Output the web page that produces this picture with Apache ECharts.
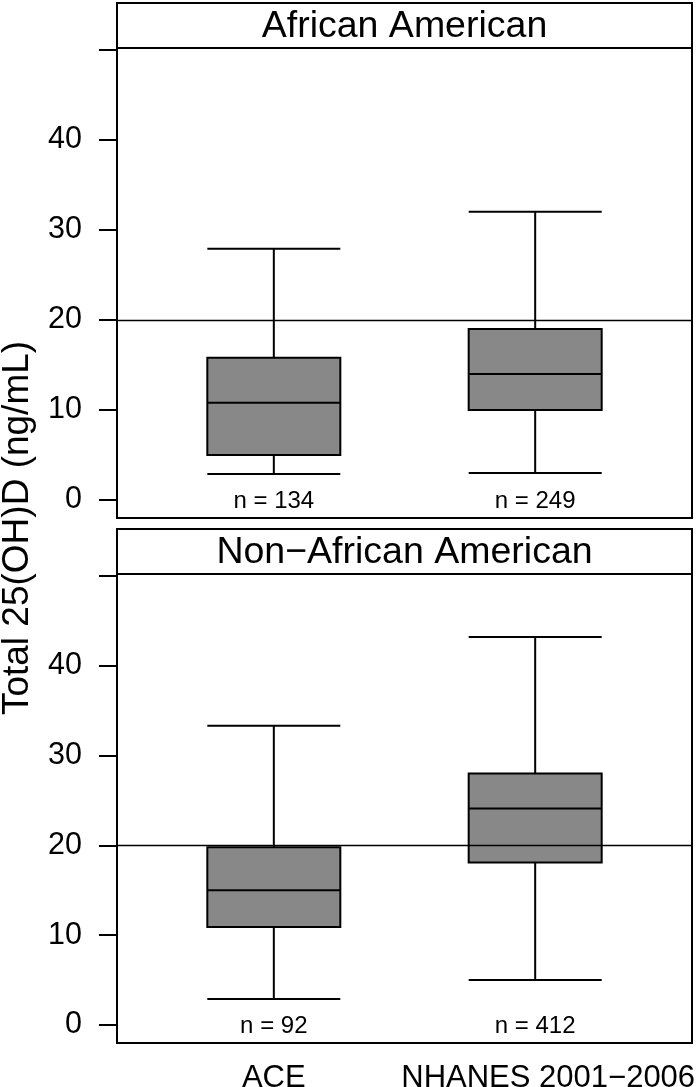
<!DOCTYPE html>
<html>
<head>
<meta charset="utf-8">
<script src="https://cdn.jsdelivr.net/npm/echarts@6/dist/echarts.min.js"></script>
<style>
  html, body { margin: 0; padding: 0; background: #fff; }
  #chart { width: 700px; height: 1087px; }
</style>
</head>
<body>
<div id="chart"></div>
<script>
// groups on the x axis (positions 1 and 2)
const groups = ['ACE', 'NHANES 2001\u22122006'];
const groupPos = [1, 2];
const panelTitles = ['African American', 'Non\u2212African American'];

// box stats: [min, Q1, median, Q3, max]
const africanAmerican = [
  [2.9, 5.0, 10.8, 15.8, 27.9],
  [3.0, 10.0, 14.0, 19.0, 32.0]
];
const nonAfricanAmerican = [
  [2.9, 10.9, 15.0, 19.8, 33.3],
  [5.0, 18.1, 24.1, 28.0, 43.2]
];
const nAfricanAmerican = [134, 249];
const nNonAfricanAmerican = [92, 412];

const yTicks = [0, 10, 20, 30, 40, 50];
const yLabels = [0, 10, 20, 30, 40];
const refLine = 20;

const FONT = 'Liberation Sans';
const chart = echarts.init(document.getElementById('chart'));

// panel layout (pixels)
const frameLeft = 117, frameRight = 692;
const panels = [
  { title: panelTitles[0], boxes: africanAmerican, n: nAfricanAmerican, headTop: 3, top: 48, height: 470 },
  { title: panelTitles[1], boxes: nonAfricanAmerican, n: nNonAfricanAmerican, headTop: 529, top: 574, height: 469 }
];

const grid = [], xAxis = [], yAxis = [], series = [], graphic = [];

panels.forEach((p, i) => {
  const last = i === panels.length - 1;
  grid.push({
    left: frameLeft, width: frameRight - frameLeft, top: p.top, height: p.height,
    outerBoundsMode: 'none', containLabel: false,
    show: true, borderColor: '#000', borderWidth: 2, backgroundColor: 'transparent'
  });
  xAxis.push({
    type: 'value', gridIndex: i, min: 0.4, max: 2.6,
    axisLine: { show: false }, axisTick: { show: false }, splitLine: { show: false },
    axisLabel: {
      show: last, customValues: groupPos, margin: 20,
      fontFamily: FONT, fontSize: 31, color: '#000',
      formatter: v => v === 2 ? '{shift|' + groups[1] + '}' : groups[groupPos.indexOf(v)] || '',
      rich: { shift: { fontFamily: FONT, fontSize: 31, color: '#000', padding: [0, 0, 0, 26] } }
    }
  });
  yAxis.push({
    type: 'value', gridIndex: i, min: -2, max: 50.2,
    axisLine: { show: true, lineStyle: { color: '#000', width: 2 } },
    axisTick: { show: true, customValues: yTicks, length: 18, lineStyle: { color: '#000', width: 2 } },
    splitLine: { show: false },
    axisLabel: { customValues: yLabels, margin: 35, fontFamily: FONT, fontSize: 30.5, color: '#000' }
  });
  series.push({
    type: 'boxplot', xAxisIndex: i, yAxisIndex: i,
    boxWidth: [133, 133],
    data: p.boxes.map((b, k) => [groupPos[k]].concat(b)),
    itemStyle: { color: '#888888', borderColor: '#000', borderWidth: 2 },
    markLine: {
      silent: true, symbol: ['none', 'none'],
      label: { show: false },
      lineStyle: { color: '#000', width: 1.3, type: 'solid' },
      data: [{ yAxis: refLine }]
    }
  });
  series.push({
    type: 'scatter', xAxisIndex: i, yAxisIndex: i,
    symbolSize: 1, itemStyle: { color: 'transparent' },
    data: p.n.map((n, k) => [groupPos[k], -0.15, n]),
    label: {
      show: true, position: 'inside', fontFamily: FONT, fontSize: 24, color: '#000',
      textBorderWidth: 0, opacity: 1,
      formatter: d => 'n = ' + d.value[2]
    }
  });
  graphic.push({
    type: 'rect',
    shape: { x: frameLeft, y: p.headTop, width: frameRight - frameLeft, height: p.top - p.headTop },
    style: { fill: '#fff', stroke: '#000', lineWidth: 2 }
  });
  graphic.push({
    type: 'text',
    style: {
      text: p.title, x: (frameLeft + frameRight) / 2, y: (p.headTop + p.top) / 2 + 1,
      align: 'center', verticalAlign: 'middle', font: '37.5px "' + FONT + '"', fill: '#000'
    }
  });
});

graphic.push({
  type: 'text', rotation: Math.PI / 2, x: 18, y: 528,
  style: {
    text: 'Total 25(OH)D (ng/mL)', x: 0, y: 0,
    align: 'center', verticalAlign: 'middle', font: '37px "' + FONT + '"', fill: '#000'
  }
});

chart.setOption({
  animation: false,
  backgroundColor: '#fff',
  grid: grid,
  xAxis: xAxis,
  yAxis: yAxis,
  series: series,
  graphic: graphic
});
</script>
</body>
</html>
